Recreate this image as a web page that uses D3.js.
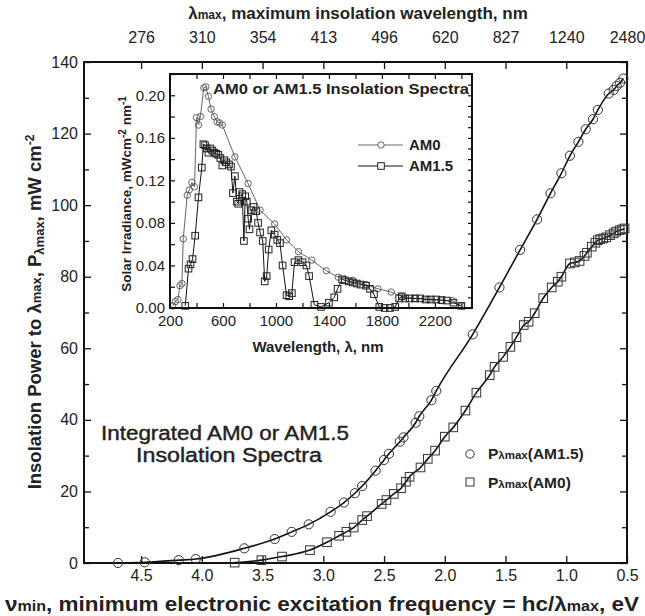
<!DOCTYPE html>
<html>
<head>
<meta charset="utf-8">
<script src="https://cdn.jsdelivr.net/npm/d3@7.9.0/dist/d3.min.js"></script>
<style>
  body { margin: 0; background: #fff; }
  svg { display: block; font-family: "Liberation Sans", Arial, Helvetica, sans-serif; }
</style>
</head>
<body>
<svg id="chart" width="645" height="616"></svg>
<script>
// ---- main plot data (eV, mW cm-2) ----
const upperEV = [4.69, 4.47, 4.19, 4.05, 3.65, 3.40, 3.26, 3.12, 2.94, 2.83, 2.74, 2.68, 2.57, 2.50, 2.46, 2.37, 2.34, 2.24, 2.21, 2.11, 2.07, 1.77, 1.55, 1.38, 1.24, 1.13, 1.04, 0.97, 0.90, 0.84, 0.78, 0.74, 0.65, 0.61, 0.585, 0.557, 0.53];
const upperP  = [0, 0.2, 0.8, 1.1, 4.1, 6.7, 8.7, 10.8, 14.3, 16.9, 19.5, 21.5, 25.8, 28.8, 30.5, 33.9, 35.1, 39.2, 41.0, 45.5, 48.1, 63.9, 77.0, 87.5, 96.0, 103.3, 108.9, 113.8, 117.7, 121.2, 124.0, 126.6, 131.2, 132.2, 133.3, 134.2, 135.4];

const lowerEV = [3.73, 3.51, 3.34, 3.11, 2.97, 2.87, 2.81, 2.75, 2.68, 2.64, 2.52, 2.48, 2.42, 2.36, 2.32, 2.29, 2.20, 2.14, 2.08, 2.00, 1.93, 1.83, 1.74, 1.63, 1.59, 1.52, 1.46, 1.41, 1.35, 1.31, 1.26, 1.19, 1.12, 1.07, 1.04, 0.97, 0.93, 0.89, 0.85, 0.83, 0.79, 0.76, 0.74, 0.72, 0.695, 0.67, 0.64, 0.61, 0.59, 0.56, 0.54, 0.52];
const lowerP  = [0.1, 0.8, 1.8, 3.6, 5.8, 7.6, 8.7, 9.9, 12.0, 13.1, 16.5, 17.6, 19.3, 20.9, 22.7, 24.1, 26.7, 29.1, 31.4, 35.3, 37.9, 42.6, 47.6, 52.5, 54.8, 57.6, 60.4, 63.1, 66.5, 67.4, 69.8, 74.0, 77.0, 78.6, 80.0, 83.7, 84.0, 84.4, 85.8, 86.7, 88.4, 89.5, 90.2, 90.5, 90.7, 91.0, 91.6, 92.1, 92.6, 93.0, 93.2, 93.5];

const bottomTicks = [4.5, 4.0, 3.5, 3.0, 2.5, 2.0, 1.5, 1.0, 0.5];
const topLabels = ["276", "310", "354", "413", "496", "620", "827", "1240", "2480"];
const yTicks = [0, 20, 40, 60, 80, 100, 120, 140];

// ---- inset data (nm, mW cm-2 nm-1) ----
const am0Nm  = [220, 240, 260, 275, 290, 300, 330, 345, 365, 385, 400, 415, 430, 455, 470, 490, 510, 535, 555, 575, 595, 690, 790, 880, 990, 1080, 1170, 1270, 1380, 1470, 1580, 1680, 1770, 1870, 1950, 2050, 2150, 2250, 2330, 2400];
const am0Val = [0.002, 0.006, 0.008, 0.021, 0.023, 0.065, 0.106, 0.111, 0.118, 0.114, 0.179, 0.172, 0.180, 0.207, 0.208, 0.199, 0.187, 0.180, 0.175, 0.174, 0.172, 0.142, 0.117, 0.092, 0.079, 0.064, 0.053, 0.045, 0.035, 0.029, 0.026, 0.022, 0.018, 0.015, 0.011, 0.009, 0.008, 0.007, 0.007, 0.002];

const am15Nm  = [315, 340, 355, 370, 390, 415, 440, 452, 465, 478, 490, 505, 520, 535, 550, 565, 580, 595, 610, 625, 645, 660, 675, 690, 705, 715, 725, 745, 758, 768, 780, 790, 800, 815, 830, 850, 865, 880, 900, 915, 930, 945, 965, 990, 1010, 1030, 1050, 1080, 1100, 1120, 1140, 1170, 1200, 1230, 1250, 1290, 1340, 1400, 1440, 1465, 1500, 1520, 1550, 1580, 1610, 1640, 1680, 1710, 1740, 1780, 1820, 1860, 1900, 1930, 1950, 1975, 2010, 2050, 2090, 2130, 2170, 2210, 2250, 2290, 2340, 2400];
const am15Val = [0.002, 0.037, 0.041, 0.046, 0.068, 0.104, 0.132, 0.154, 0.153, 0.150, 0.146, 0.150, 0.148, 0.146, 0.145, 0.144, 0.141, 0.134, 0.139, 0.137, 0.135, 0.133, 0.108, 0.124, 0.100, 0.098, 0.109, 0.107, 0.063, 0.105, 0.100, 0.084, 0.074, 0.092, 0.095, 0.091, 0.080, 0.071, 0.063, 0.025, 0.030, 0.055, 0.073, 0.069, 0.064, 0.061, 0.040, 0.012, 0.011, 0.014, 0.043, 0.045, 0.043, 0.040, 0.030, 0.003, 0.001, 0.005, 0.010, 0.018, 0.027, 0.026, 0.025, 0.024, 0.023, 0.022, 0.021, 0.018, 0.013, 0.001, 0.0, 0.0, 0.001, 0.009, 0.011, 0.009, 0.009, 0.009, 0.009, 0.008, 0.008, 0.008, 0.0075, 0.007, 0.005, 0.002];

const insetXTicks = [200, 600, 1000, 1400, 1800, 2200];
const insetYTicks = [0, 0.04, 0.08, 0.12, 0.16, 0.20];

const svg = d3.select('#chart');

// main scales
const x = d3.scaleLinear().domain([4.97, 0.5]).range([84, 627]);
const y = d3.scaleLinear().domain([0, 140]).range([563, 62]);

// helper for text with small / raised pieces
function rich(textSel, parts) {
  parts.forEach(p => {
    textSel.append('tspan')
      .attr('font-size', p.s || null)
      .attr('dy', p.dy || null)
      .text(p.t);
  });
  return textSel;
}

// ---- main axes ----
const gBottom = svg.append('g').attr('transform', 'translate(0,563)')
  .call(d3.axisBottom(x).tickValues(bottomTicks).tickFormat(d3.format('.1f'))
    .tickSizeInner(-7).tickSizeOuter(0).tickPadding(7));
const gTop = svg.append('g').attr('transform', 'translate(0,62)')
  .call(d3.axisTop(x).tickValues(bottomTicks).tickFormat((d, i) => topLabels[i])
    .tickSizeInner(-7).tickSizeOuter(0).tickPadding(19));
const gLeft = svg.append('g').attr('transform', 'translate(84,0)')
  .call(d3.axisLeft(y).tickValues(d3.range(0, 141, 10))
    .tickFormat(d => yTicks.includes(d) ? d : '')
    .tickSizeInner(-7).tickSizeOuter(0).tickPadding(6));
const gRight = svg.append('g').attr('transform', 'translate(627,0)')
  .call(d3.axisRight(y).tickValues(d3.range(0, 141, 10)).tickFormat('')
    .tickSizeInner(-7).tickSizeOuter(0));

[gBottom, gTop, gLeft, gRight].forEach(g => {
  g.select('.domain').remove();
  g.selectAll('.tick line').attr('stroke', '#111').attr('stroke-width', 1.3);
  g.selectAll('.tick text').attr('font-size', 16).attr('fill', '#222')
    .attr('font-family', '"Liberation Sans", Arial, sans-serif');
});
gLeft.selectAll('.tick line').attr('x2', d => yTicks.includes(d) ? 7 : 5);
gRight.selectAll('.tick line').attr('x2', d => yTicks.includes(d) ? -7 : -5);

svg.append('rect').attr('x', 84).attr('y', 62).attr('width', 543).attr('height', 501)
  .attr('fill', 'none').attr('stroke', '#111').attr('stroke-width', 2);

// axis titles
rich(svg.append('text').attr('x', 358).attr('y', 19).attr('text-anchor', 'middle')
  .attr('font-size', 17).attr('font-weight', 'bold').attr('fill', '#222'),
  [{t: 'λ'}, {t: 'max', s: 12}, {t: ', maximum insolation wavelength, nm'}]);

rich(svg.append('text').attr('x', 5).attr('y', 611)
  .attr('font-size', 21).attr('font-weight', 'bold').attr('fill', '#222')
  .attr('textLength', 634).attr('lengthAdjust', 'spacingAndGlyphs'),
  [{t: 'ν'}, {t: 'min', s: 15}, {t: ', minimum electronic excitation frequency = hc/λ'}, {t: 'max', s: 15}, {t: ', eV'}]);

rich(svg.append('text').attr('transform', 'translate(41,312) rotate(-90)').attr('text-anchor', 'middle')
  .attr('font-size', 18.5).attr('font-weight', 'bold').attr('fill', '#222'),
  [{t: 'Insolation Power to λ'}, {t: 'max', s: 13}, {t: ', P'}, {t: 'λmax', s: 13, dy: 3},
   {t: ', mW cm', dy: -3}, {t: '-2', s: 12, dy: -7}]);

// ---- main curves ----
const lineMain = d3.line().x(d => x(d[0])).y(d => y(d[1])).curve(d3.curveMonotoneX);
const upper = upperEV.map((e, i) => [e, upperP[i]]);
const lower = lowerEV.map((e, i) => [e, lowerP[i]]);

svg.append('path').datum(upper).attr('d', lineMain)
  .attr('fill', 'none').attr('stroke', '#111').attr('stroke-width', 1.6);
svg.append('path').datum(lower).attr('d', lineMain)
  .attr('fill', 'none').attr('stroke', '#111').attr('stroke-width', 1.6);

svg.append('g').selectAll('circle').data(upper).join('circle')
  .attr('cx', d => x(d[0])).attr('cy', d => y(d[1])).attr('r', 4.6)
  .attr('fill', 'none').attr('stroke', '#333').attr('stroke-width', 1);
svg.append('g').selectAll('rect').data(lower).join('rect')
  .attr('x', d => x(d[0]) - 4.3).attr('y', d => y(d[1]) - 4.3)
  .attr('width', 8.6).attr('height', 8.6)
  .attr('fill', 'none').attr('stroke', '#333').attr('stroke-width', 1);

// main annotation
svg.append('text').attr('x', 101).attr('y', 440)
  .attr('font-size', 20).attr('fill', '#222').attr('stroke', '#222').attr('stroke-width', 0.4)
  .attr('textLength', 248).attr('lengthAdjust', 'spacingAndGlyphs')
  .text('Integrated AM0 or AM1.5');
svg.append('text').attr('x', 136).attr('y', 462)
  .attr('font-size', 20).attr('fill', '#222').attr('stroke', '#222').attr('stroke-width', 0.4)
  .attr('textLength', 186).attr('lengthAdjust', 'spacingAndGlyphs')
  .text('Insolation Spectra');

// main legend
svg.append('circle').attr('cx', 470).attr('cy', 454).attr('r', 4.2)
  .attr('fill', 'none').attr('stroke', '#333').attr('stroke-width', 1);
svg.append('rect').attr('x', 466).attr('y', 478).attr('width', 8).attr('height', 8)
  .attr('fill', 'none').attr('stroke', '#333').attr('stroke-width', 1);
rich(svg.append('text').attr('x', 488).attr('y', 459).attr('font-size', 15.5)
  .attr('font-weight', 'bold').attr('fill', '#222'),
  [{t: 'P'}, {t: 'λmax', s: 11.5}, {t: '(AM1.5)'}]);
rich(svg.append('text').attr('x', 488).attr('y', 488).attr('font-size', 15.5)
  .attr('font-weight', 'bold').attr('fill', '#222'),
  [{t: 'P'}, {t: 'λmax', s: 11.5}, {t: '(AM0)'}]);

// ---- inset ----
const ix = d3.scaleLinear().domain([200, 2480]).range([170, 472]);
const iy = d3.scaleLinear().domain([0, 0.22]).range([308, 74]);
const inset = svg.append('g');

inset.append('rect').attr('x', 170).attr('y', 74).attr('width', 302).attr('height', 234)
  .attr('fill', '#fff');

const iB = inset.append('g').attr('transform', 'translate(0,308)')
  .call(d3.axisBottom(ix).tickValues(d3.range(200, 2481, 200))
    .tickFormat(d => insetXTicks.includes(d) ? d : '')
    .tickSizeInner(-5).tickSizeOuter(0).tickPadding(7));
const iT = inset.append('g').attr('transform', 'translate(0,74)')
  .call(d3.axisTop(ix).tickValues(d3.range(200, 2481, 200)).tickFormat('')
    .tickSizeInner(-5).tickSizeOuter(0));
const iL = inset.append('g').attr('transform', 'translate(170,0)')
  .call(d3.axisLeft(iy).tickValues(d3.range(0, 0.2201, 0.02))
    .tickFormat(d => insetYTicks.some(v => Math.abs(v - d) < 1e-6) ? d3.format('.2f')(d) : '')
    .tickSizeInner(-5).tickSizeOuter(0).tickPadding(5));
const iR = inset.append('g').attr('transform', 'translate(472,0)')
  .call(d3.axisRight(iy).tickValues(d3.range(0, 0.2201, 0.01)).tickFormat('')
    .tickSizeInner(-4).tickSizeOuter(0));

[iB, iT, iL, iR].forEach(g => {
  g.select('.domain').remove();
  g.selectAll('.tick line').attr('stroke', '#111').attr('stroke-width', 1.2);
  g.selectAll('.tick text').attr('font-size', 15).attr('fill', '#222')
    .attr('font-family', '"Liberation Sans", Arial, sans-serif');
});

const lineInset = d3.line().x(d => ix(d[0])).y(d => iy(d[1]));
const am0 = am0Nm.map((n, i) => [n, am0Val[i]]);
const am15 = am15Nm.map((n, i) => [n, am15Val[i]]);

inset.append('path').datum(am0).attr('d', lineInset)
  .attr('fill', 'none').attr('stroke', '#666').attr('stroke-width', 1);
inset.append('path').datum(am15).attr('d', lineInset)
  .attr('fill', 'none').attr('stroke', '#111').attr('stroke-width', 1);

inset.append('g').selectAll('circle').data(am0).join('circle')
  .attr('cx', d => ix(d[0])).attr('cy', d => iy(d[1])).attr('r', 3.2)
  .attr('fill', 'none').attr('stroke', '#555').attr('stroke-width', 0.9);
inset.append('g').selectAll('rect').data(am15).join('rect')
  .attr('x', d => ix(d[0]) - 3.3).attr('y', d => iy(d[1]) - 3.3)
  .attr('width', 6.6).attr('height', 6.6)
  .attr('fill', 'none').attr('stroke', '#222').attr('stroke-width', 1);

inset.append('rect').attr('x', 170).attr('y', 74).attr('width', 302).attr('height', 234)
  .attr('fill', 'none').attr('stroke', '#111').attr('stroke-width', 2);

// inset title & legend
inset.append('text').attr('x', 213).attr('y', 94).attr('font-size', 15)
  .attr('font-weight', 'bold').attr('fill', '#222')
  .attr('textLength', 256).attr('lengthAdjust', 'spacingAndGlyphs')
  .text('AM0 or AM1.5 Insolation Spectra');

inset.append('line').attr('x1', 358).attr('x2', 403).attr('y1', 145).attr('y2', 145)
  .attr('stroke', '#666').attr('stroke-width', 1);
inset.append('circle').attr('cx', 381).attr('cy', 145).attr('r', 3.2)
  .attr('fill', '#fff').attr('stroke', '#555').attr('stroke-width', 0.9);
inset.append('text').attr('x', 409).attr('y', 150).attr('font-size', 15)
  .attr('font-weight', 'bold').attr('fill', '#222').text('AM0');

inset.append('line').attr('x1', 358).attr('x2', 403).attr('y1', 166).attr('y2', 166)
  .attr('stroke', '#111').attr('stroke-width', 1);
inset.append('rect').attr('x', 377.7).attr('y', 162.7).attr('width', 6.6).attr('height', 6.6)
  .attr('fill', '#fff').attr('stroke', '#222').attr('stroke-width', 1);
inset.append('text').attr('x', 409).attr('y', 171).attr('font-size', 15)
  .attr('font-weight', 'bold').attr('fill', '#222').text('AM1.5');

// inset axis titles
inset.append('text').attr('x', 318).attr('y', 352).attr('text-anchor', 'middle')
  .attr('font-size', 15).attr('font-weight', 'bold').attr('fill', '#222')
  .text('Wavelength, λ, nm');
rich(inset.append('text').attr('transform', 'translate(131,194) rotate(-90)').attr('text-anchor', 'middle')
  .attr('font-size', 13.5).attr('font-weight', 'bold').attr('fill', '#222'),
  [{t: 'Solar Irradiance, mWcm'}, {t: '-2', s: 10, dy: -5}, {t: ' nm', dy: 5}, {t: '-1', s: 10, dy: -5}]);
</script>
</body>
</html>
